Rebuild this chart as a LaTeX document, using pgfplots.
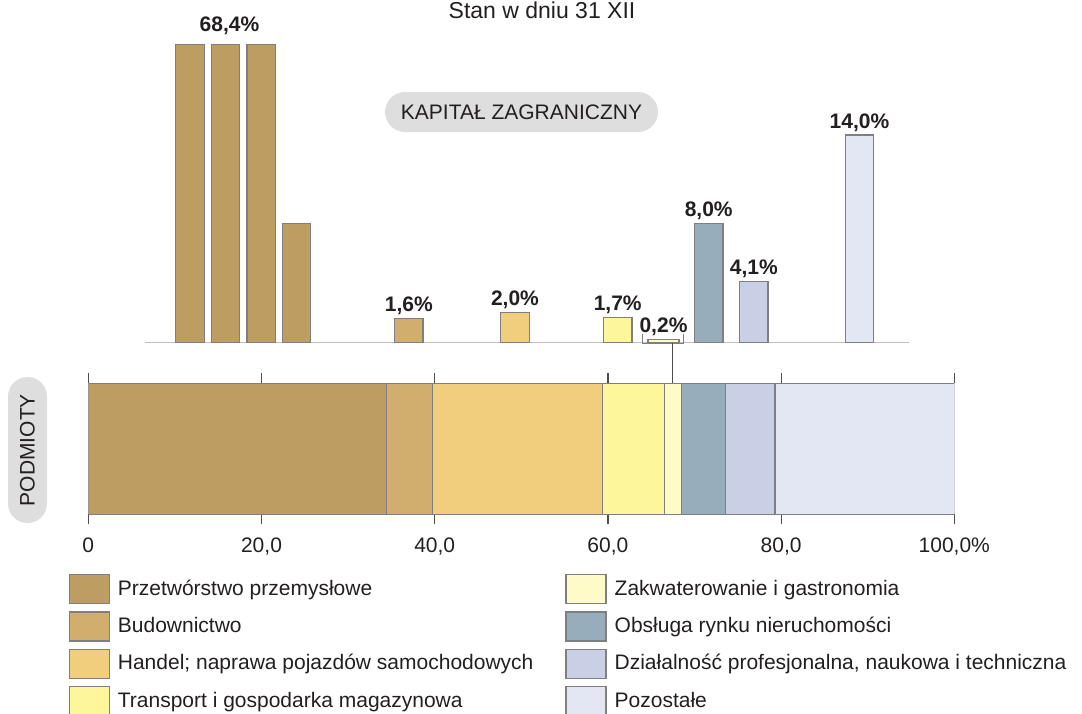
\documentclass[border=0pt]{standalone}
\usepackage{fontspec}
\setmainfont{Liberation Sans}
\usepackage{pgfplots}
\pgfplotsset{compat=1.18}
\definecolor{c1}{HTML}{BE9D62}
\definecolor{c2}{HTML}{D2AE6E}
\definecolor{c3}{HTML}{F1CE7E}
\definecolor{c4}{HTML}{FEF69A}
\definecolor{c5}{HTML}{FFFBC8}
\definecolor{c6}{HTML}{97ADBC}
\definecolor{c7}{HTML}{C9CFE4}
\definecolor{c8}{HTML}{E3E7F3}
\definecolor{bord}{HTML}{7F7F7F}
\definecolor{txt}{HTML}{231F20}
\definecolor{boxg}{HTML}{DEDEDE}
\definecolor{basec}{HTML}{BFBFBF}
\definecolor{tickc}{HTML}{4D4D4D}
\newcommand{\fs}{\fontsize{10.5}{12.6}\selectfont}
\begin{document}
\begin{tikzpicture}[font=\fs, text=txt]
\useasboundingbox (0,0) rectangle (541pt,-356.5pt);
\node[anchor=base, font=\fontsize{11.5}{13.8}\selectfont] at (271pt,-9pt) {Stan w dniu 31 XII};
\node[fill=boxg, rounded corners=10pt, minimum width=136.5pt, minimum height=20pt, inner sep=0pt] at (260.75pt,-56pt) {KAPITAŁ ZAGRANICZNY};
\node[fill=boxg, rounded corners=9.75pt, minimum width=73pt, minimum height=19.5pt, inner sep=0pt, rotate=90] at (13.75pt,-225pt) {PODMIOTY};

% upper chart: foreign capital
\begin{axis}[at={(44.15pt,-171.15pt)}, anchor=south west, scale only axis,
  width=433pt, height=148.75pt,
  xmin=0, xmax=100, ymin=0, ymax=20.1, hide axis, clip=false,
  ybar, bar width=14.25pt, bar shift=0pt,
  every axis plot/.append style={draw=bord, line width=0.6pt},
  every node near coord/.append style={font=\bfseries\fs, text=txt, anchor=base, yshift=3.5pt},
]
\draw[basec, line width=0.8pt] (axis cs:6.57,0) -- (axis cs:94.81,0);
\addplot[fill=c1] coordinates {(11.74,20.1) (15.84,20.1) (19.97,20.1) (24.04,8.0)};
\addplot[fill=c2, nodes near coords={1,6\%}] coordinates {(37.01,1.6)};
\addplot[fill=c3, nodes near coords={2,0\%}] coordinates {(49.27,2.0)};
\addplot[fill=c4, nodes near coords={1,7\%}] coordinates {(61.13,1.7)};
\addplot[fill=c5, bar width=15.5pt, nodes near coords={0,2\%}] coordinates {(66.42,0.2)};
\addplot[fill=c6, nodes near coords={8,0\%}] coordinates {(71.64,8.0)};
\addplot[fill=c7, nodes near coords={4,1\%}] coordinates {(76.85,4.1)};
\addplot[fill=c8, nodes near coords={14,0\%}] coordinates {(89.05,14.0)};
\node[anchor=base, font=\bfseries\fs, yshift=6.5pt] at (axis cs:16.3,20.1) {68,4\%};
\draw[bord, line width=0.6pt] (axis cs:64.02,0.54) -- (axis cs:64.02,-0.07) -- (axis cs:68.75,-0.07) -- (axis cs:68.75,0.54);
\draw[tickc, line width=0.6pt] (axis cs:67.47,-0.07) -- (axis cs:67.47,-2.77);
\end{axis}

% lower chart: entities
\begin{axis}[at={(44.15pt,-257.1pt)}, anchor=south west, scale only axis,
  width=433pt, height=65.5pt,
  xmin=0, xmax=100, ymin=-0.5, ymax=0.5,
  xbar stacked, bar width=1,
  axis line style={draw=none}, ytick=\empty,
  xtick={0,20,40,60,80,100}, xticklabels={0,{20,0},{40,0},{60,0},{80,0},{100,0\%}},
  xtick pos=both, xticklabel pos=bottom, tick align=outside, major tick length=5pt,
  tick style={draw=tickc, line width=0.6pt},
  tick label style={font=\fs, text=txt},
  xticklabel style={yshift=-3.5pt},
  every axis plot/.append style={draw=bord, line width=0.6pt},
  legend image code/.code={\draw[#1, line width=0.6pt] (0pt,-7.25pt) rectangle (20pt,7.25pt);},
  legend columns=4, transpose legend, legend cell align=left,
  legend style={draw=none, fill=none, at={(-0.0231,-0.455)}, anchor=north west, inner sep=0pt,
    row sep=3.5pt, font=\fs, text=txt,
    /tikz/every odd column/.append style={column sep=2pt},
    /tikz/every even column/.append style={column sep=14pt}},
]
\addplot[fill=c1] coordinates {(34.4,0)};
\addlegendentry{Przetwórstwo przemysłowe}
\addplot[fill=c2] coordinates {(5.3,0)};
\addlegendentry{Budownictwo}
\addplot[fill=c3] coordinates {(19.7,0)};
\addlegendentry{Handel; naprawa pojazdów samochodowych}
\addplot[fill=c4] coordinates {(7.1,0)};
\addlegendentry{Transport i gospodarka magazynowa}
\addplot[fill=c5] coordinates {(2.0,0)};
\addlegendentry{Zakwaterowanie i gastronomia}
\addplot[fill=c6] coordinates {(5.1,0)};
\addlegendentry{Obsługa rynku nieruchomości}
\addplot[fill=c7] coordinates {(5.7,0)};
\addlegendentry{Działalność profesjonalna, naukowa i techniczna}
\addplot[fill=c8] coordinates {(20.7,0)};
\addlegendentry{Pozostałe}
\end{axis}
\end{tikzpicture}
\end{document}
